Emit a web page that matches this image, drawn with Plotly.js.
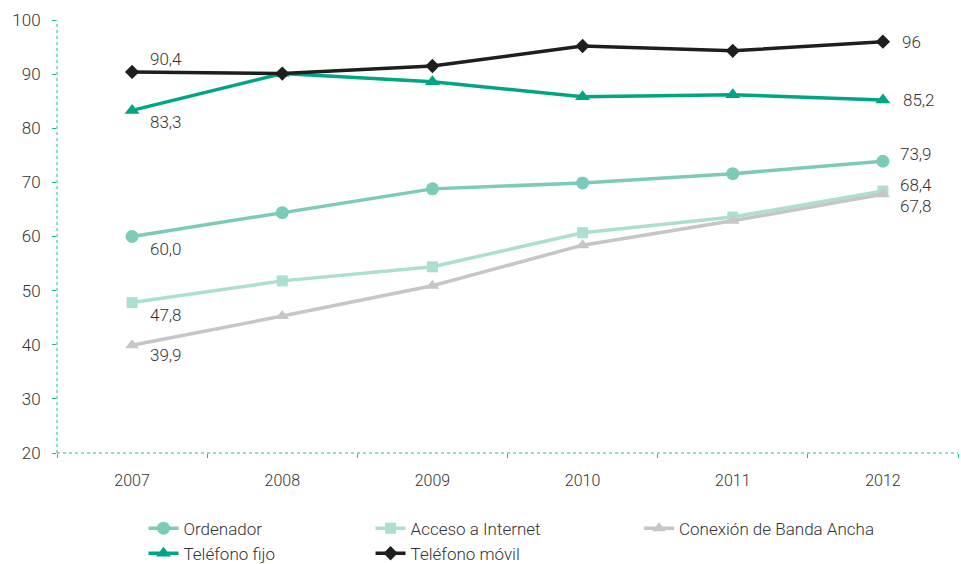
<!DOCTYPE html>
<html><head><meta charset="utf-8">
<script src="https://cdn.plot.ly/plotly-3.0.1.min.js"></script>
<style>html,body{margin:0;padding:0;background:#fff}#chart{width:961px;height:564px}</style>
</head><body><div id="chart"></div>
<script>
const years = ['2007','2008','2009','2010','2011','2012'];
const ordenador = [60.0, 64.4, 68.8, 69.9, 71.6, 73.9];
const acceso = [47.8, 51.8, 54.4, 60.7, 63.6, 68.4];
const banda = [39.9, 45.3, 50.9, 58.4, 62.9, 67.8];
const fijo = [83.3, 90.1, 88.6, 85.8, 86.2, 85.2];
const movil = [90.4, 90.1, 91.5, 95.2, 94.3, 96.0];
const yTicks = [20,30,40,50,60,70,80,90,100];

const labelsFirst = {movil:'90,4', fijo:'83,3', ordenador:'60,0', acceso:'47,8', banda:'39,9'};
const labelsLast = {movil:'96', fijo:'85,2', ordenador:'73,9', acceso:'68,4', banda:'67,8'};

const fam = 'Roboto, Liberation Sans, Arial, sans-serif';
const font = {family:fam, size:17, color:'#333333', weight:300};
const teal = '#1fb89a';

function tr(name, y, color, symbol, size, legend){
  return {x:years, y:y, name:name, type:'scatter', mode:'lines+markers',
    line:{color:color, width:3.5}, marker:{color:color, symbol:symbol, size:size},
    legend:legend, hoverinfo:'skip'};
}
const data = [
  tr('Ordenador', ordenador, '#7ccbb8', 'circle', 13, 'legend'),
  tr('Acceso a Internet', acceso, '#acdfd2', 'square', 11, 'legend2'),
  tr('Conexión de Banda Ancha', banda, '#c6c6c6', 'triangle-up', 12, 'legend3'),
  tr('Teléfono fijo', fijo, '#00a585', 'triangle-up', 13, 'legend'),
  tr('Teléfono móvil', movil, '#1e1e1e', 'diamond', 11, 'legend2')
];

const series = {movil:movil, fijo:fijo, ordenador:ordenador, acceso:acceso, banda:banda};
const firstOff = {movil:[16,13], fijo:[16,-12], ordenador:[16,-12], acceso:[16,-12], banda:[16,-10]};
const lastOff = {movil:[17,0], fijo:[18,0], ordenador:[15,7], acceso:[15,6], banda:[15,-12]};
const ann = [];
Object.keys(series).forEach(function(k){
  ann.push({x:0, y:series[k][0], xref:'x', yref:'y', text:labelsFirst[k], showarrow:false, xanchor:'left', yanchor:'middle',
    xshift:firstOff[k][0], yshift:firstOff[k][1], font:font});
  ann.push({x:5, y:series[k][5], xref:'x', yref:'y', text:labelsLast[k], showarrow:false, xanchor:'left', yanchor:'middle',
    xshift:lastOff[k][0], yshift:lastOff[k][1], font:font});
});

function leg(px){
  return {orientation:'v', font:font, bgcolor:'rgba(0,0,0,0)', yanchor:'top', xanchor:'left',
    x:px, y:-0.133, tracegroupgap:0};
}
const layout = {
  width:961, height:564,
  margin:{l:57, r:3, t:20, b:111, autoexpand:false},
  paper_bgcolor:'#fff', plot_bgcolor:'#fff',
  font:font,
  showlegend:true,
  xaxis:{type:'category', range:[-0.5,5.5], showgrid:false, zeroline:false, showline:false,
    ticks:'outside', ticklen:4, tickcolor:teal, tickwidth:1, tickson:'boundaries', tickangle:0,
    ticklabelstandoff:16, tickfont:{family:fam, size:16, color:'#333333', weight:300}, fixedrange:true, automargin:false},
  yaxis:{range:[20,100], tickvals:yTicks, showgrid:false, zeroline:false, showline:false,
    ticks:'outside', ticklen:4, tickcolor:teal, tickwidth:1, ticklabelstandoff:8,
    tickfont:font, fixedrange:true, automargin:false},
  shapes:[
    {type:'line', xref:'paper', yref:'paper', x0:0, x1:0, y0:0, y1:1, line:{color:teal, width:1, dash:'dot'}},
    {type:'line', xref:'paper', yref:'paper', x0:0, x1:1, y0:0, y1:0, line:{color:teal, width:1, dash:'dot'}}
  ],
  annotations:ann,
  legend:leg(0.096),
  legend2:leg(0.348),
  legend3:leg(0.646)
};
Plotly.newPlot('chart', data, layout, {displayModeBar:false, staticPlot:true});
</script></body></html>
